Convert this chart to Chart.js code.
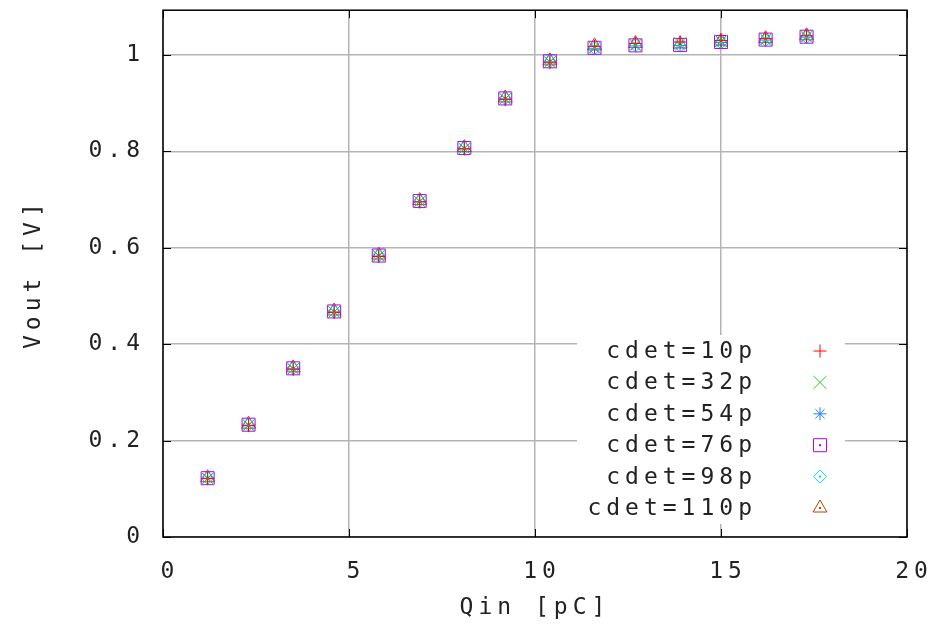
<!DOCTYPE html>
<html>
<head>
<meta charset="utf-8">
<script src="https://cdn.jsdelivr.net/npm/chart.js@4.4.1/dist/chart.umd.min.js"></script>
<style>
  html, body { margin: 0; padding: 0; background: #fff; }
</style>
</head>
<body>
<canvas id="myChart" width="937" height="633"></canvas>
<script>
// Qin [pC] values (x)
const qin = [1.2, 2.3, 3.5, 4.6, 5.8, 6.9, 8.1, 9.2, 10.4, 11.6, 12.7, 13.9, 15.0, 16.2, 17.3];

const seriesNames = ['cdet=10p', 'cdet=32p', 'cdet=54p', 'cdet=76p', 'cdet=98p', 'cdet=110p'];

// Vout [V] per detector capacitance
const vout10p  = [0.121, 0.231, 0.348, 0.466, 0.582, 0.695, 0.805, 0.908, 0.984, 1.018, 1.024, 1.027, 1.030, 1.034, 1.040];
const vout32p  = [0.121, 0.232, 0.349, 0.467, 0.583, 0.696, 0.806, 0.909, 0.985, 1.016, 1.021, 1.024, 1.029, 1.033, 1.039];
const vout54p  = [0.122, 0.232, 0.349, 0.467, 0.583, 0.696, 0.806, 0.909, 0.986, 1.014, 1.019, 1.020, 1.026, 1.031, 1.037];
const vout76p  = [0.122, 0.233, 0.350, 0.468, 0.584, 0.697, 0.807, 0.910, 0.987, 1.015, 1.020, 1.021, 1.027, 1.032, 1.038];
const vout98p  = [0.122, 0.233, 0.350, 0.468, 0.584, 0.697, 0.807, 0.910, 0.987, 1.014, 1.020, 1.019, 1.026, 1.031, 1.037];
const vout110p = [0.123, 0.234, 0.351, 0.469, 0.585, 0.698, 0.808, 0.911, 0.988, 1.019, 1.024, 1.023, 1.029, 1.034, 1.040];

const xTicks = [0, 5, 10, 15, 20];
const yTicks = [0, 0.2, 0.4, 0.6, 0.8, 1];

const allVout = [vout10p, vout32p, vout54p, vout76p, vout98p, vout110p];
const colors = ['#ff0000', '#22cc22', '#1f7fff', '#b000ff', '#00dddd', '#c04000'];
const styles = ['cross', 'crossRot', 'star', 'rect', 'rectRot', 'triangle'];
const radii = [6.5, 9, 6.5, 9.2, 6.5, 8];
const dotted = [false, false, false, true, true, true];

const FONT = { family: '"DejaVu Sans Mono", monospace', size: 23 };
const TEXT = '#222';
const GRID = '#b4b4b4';

const datasets = allVout.map((v, i) => ({
  label: seriesNames[i],
  data: qin.map((q, j) => ({ x: q, y: v[j] })),
  showLine: false,
  pointStyle: styles[i],
  pointRadius: radii[i],
  pointHoverRadius: radii[i],
  pointBorderWidth: 1,
  borderColor: colors[i],
  backgroundColor: 'rgba(0,0,0,0)',
  dot: dotted[i]
}));

const noPad = s => { s.paddingTop = 0; s.paddingBottom = 0; s.paddingLeft = 0; s.paddingRight = 0; };

const gnuplotLook = {
  id: 'gnuplotLook',
  beforeDraw(chart) {
    chart.ctx.letterSpacing = '5px';
  },
  afterDatasetsDraw(chart) {
    const ctx = chart.ctx;
    const a = chart.chartArea;
    ctx.save();
    // centre dots of the hollow markers
    chart.data.datasets.forEach((ds, i) => {
      if (!ds.dot) return;
      ctx.fillStyle = ds.borderColor;
      chart.getDatasetMeta(i).data.forEach(p => ctx.fillRect(p.x - 1, p.y - 1, 2, 2));
    });
    // opaque key, bottom right
    ctx.fillStyle = '#fff';
    ctx.fillRect(a.right - 330, a.bottom - 202, 268, 189);
    ctx.font = FONT.size + 'px ' + FONT.family;
    ctx.textAlign = 'right';
    ctx.textBaseline = 'middle';
    chart.data.datasets.forEach((ds, i) => {
      const y = a.bottom - 186 + i * 31.4;
      ctx.fillStyle = TEXT;
      ctx.fillText(ds.label, a.right - 150, y + 1);
      ctx.strokeStyle = ds.borderColor;
      ctx.fillStyle = 'rgba(0,0,0,0)';
      ctx.lineWidth = 1;
      Chart.helpers.drawPoint(ctx, { pointStyle: ds.pointStyle, radius: ds.pointRadius, rotation: 0, borderWidth: 1 }, a.right - 87, y);
      if (ds.dot) {
        ctx.fillStyle = ds.borderColor;
        ctx.fillRect(a.right - 88, y - 1, 2, 2);
      }
    });
    ctx.restore();
  },
  afterDraw(chart) {
    const ctx = chart.ctx;
    const a = chart.chartArea;
    const xs = chart.scales.x, ys = chart.scales.y;
    ctx.save();
    ctx.strokeStyle = '#000';
    ctx.lineWidth = 1.5;
    ctx.strokeRect(a.left, a.top, a.right - a.left, a.bottom - a.top);
    ctx.lineWidth = 1;
    ctx.beginPath();
    xTicks.forEach(v => {
      const px = Math.round(xs.getPixelForValue(v)) + 0.5;
      ctx.moveTo(px, a.bottom); ctx.lineTo(px, a.bottom - 8);
      ctx.moveTo(px, a.top); ctx.lineTo(px, a.top + 8);
    });
    yTicks.forEach(v => {
      const py = Math.round(ys.getPixelForValue(v)) + 0.5;
      ctx.moveTo(a.left, py); ctx.lineTo(a.left + 8, py);
      ctx.moveTo(a.right, py); ctx.lineTo(a.right - 8, py);
    });
    ctx.stroke();
    ctx.restore();
  }
};

new Chart(document.getElementById('myChart'), {
  type: 'scatter',
  data: { datasets },
  options: {
    responsive: false,
    animation: false,
    layout: { padding: { top: 0, right: 30, left: 0, bottom: 0 } },
    plugins: {
      legend: { display: false },
      tooltip: { enabled: false }
    },
    scales: {
      x: {
        type: 'linear',
        min: 0,
        max: 20,
        afterBuildTicks: s => { s.ticks = xTicks.map(v => ({ value: v })); },
        afterFit: s => { s.height = 96; noPad(s); },
        grid: { color: GRID, lineWidth: 1.5, drawTicks: false },
        border: { display: false },
        ticks: { color: TEXT, font: FONT, padding: 21, labelOffset: 7, maxRotation: 0, callback: v => String(v) },
        title: { display: true, text: 'Qin [pC]', color: TEXT, font: FONT, padding: { top: 0, bottom: 11 } }
      },
      y: {
        type: 'linear',
        min: 0,
        max: 1.093,
        afterBuildTicks: s => { s.ticks = yTicks.map(v => ({ value: v })); },
        afterFit: s => { s.width = 163; noPad(s); },
        grid: { color: GRID, lineWidth: 1.5, drawTicks: false },
        border: { display: false },
        ticks: { color: TEXT, font: FONT, padding: 18, callback: v => String(v) },
        title: { display: true, text: 'Vout [V]', color: TEXT, font: FONT, padding: { top: 20, bottom: 0 } }
      }
    }
  },
  plugins: [gnuplotLook]
});
</script>
</body>
</html>
